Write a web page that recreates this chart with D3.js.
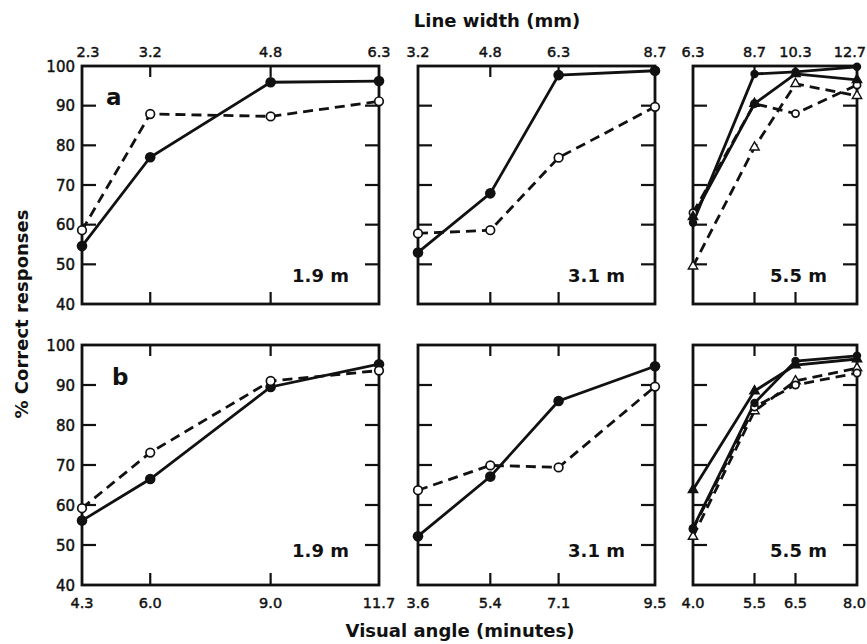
<!DOCTYPE html>
<html>
<head>
<meta charset="utf-8">
<script src="https://cdn.jsdelivr.net/npm/d3@7"></script>
<style>
  body { margin: 0; background: #fff; }
  svg text { font-family: "DejaVu Sans", sans-serif; fill: #111; }
  svg text.tick { stroke: #111; stroke-width: 0.45; }
</style>
</head>
<body>
<svg id="chart" width="867" height="644"></svg>
<script>
// Tick values (visual angle, minutes) and matching line width labels (mm)
const visualAngleTicks = [
    [4.3, 6.0, 9.0, 11.7],
    [3.6, 5.4, 7.1, 9.5],
    [4.0, 5.5, 6.5, 8.0]
];
const lineWidthLabels = [
    ['2.3', '3.2', '4.8', '6.3'],
    ['3.2', '4.8', '6.3', '8.7'],
    ['6.3', '8.7', '10.3', '12.7']
];
const distances = ['1.9 m', '3.1 m', '5.5 m'];
const rowLetters = ['a', 'b'];
const yTicks = [40, 50, 60, 70, 80, 90, 100];

// Row a: % correct responses
const a19Filled = [54.6, 77.0, 95.9, 96.2];
const a19Open = [58.6, 87.9, 87.3, 91.1];
const a31Filled = [53.0, 67.9, 97.7, 98.8];
const a31Open = [57.8, 58.6, 76.9, 89.7];
const a55Filled = [60.5, 98.0, 98.5, 99.8];
const a55FilledTri = [62.0, 90.5, 98.0, 96.5];
const a55Open = [63.0, 90.5, 88.0, 95.2];
const a55OpenTri = [49.5, 79.5, 95.5, 92.5];

// Row b: % correct responses
const b19Filled = [56.1, 66.5, 89.5, 95.2];
const b19Open = [59.2, 73.1, 91.0, 93.6];
const b31Filled = [52.2, 67.1, 86.0, 94.7];
const b31Open = [63.7, 69.9, 69.4, 89.6];
const b55Filled = [54.2, 85.5, 96.0, 97.3];
const b55FilledTri = [63.8, 88.5, 95.0, 96.5];
const b55Open = [54.0, 84.5, 90.0, 93.0];
const b55OpenTri = [52.1, 83.5, 91.0, 94.2];

const rows = [
    [
        [{ v: a19Filled, dash: false, mark: 'dot' }, { v: a19Open, dash: true, mark: 'ring' }],
        [{ v: a31Filled, dash: false, mark: 'dot' }, { v: a31Open, dash: true, mark: 'ring' }],
        [{ v: a55OpenTri, dash: true, mark: 'openTri' }, { v: a55Open, dash: true, mark: 'ring' },
         { v: a55FilledTri, dash: false, mark: 'tri' }, { v: a55Filled, dash: false, mark: 'dot' }]
    ],
    [
        [{ v: b19Filled, dash: false, mark: 'dot' }, { v: b19Open, dash: true, mark: 'ring' }],
        [{ v: b31Filled, dash: false, mark: 'dot' }, { v: b31Open, dash: true, mark: 'ring' }],
        [{ v: b55OpenTri, dash: true, mark: 'openTri' }, { v: b55Open, dash: true, mark: 'ring' },
         { v: b55FilledTri, dash: false, mark: 'tri' }, { v: b55Filled, dash: false, mark: 'dot' }]
    ]
];

const svg = d3.select('#chart');

const panelX = [[82, 379], [418, 655], [693, 857]];
const rowY = [[304, 66], [585, 345]];

function drawPanel(row, col) {
    const ticks = visualAngleTicks[col];
    const x = d3.scaleLinear()
        .domain([ticks[0], ticks[ticks.length - 1]])
        .range(panelX[col]);
    const y = d3.scaleLinear().domain([40, 100]).range(rowY[row]);

    const g = svg.append('g');
    const [x0, x1] = x.range();
    const [yb, yt] = y.range();

    // inward ticks on all sides
    const inner = yTicks.slice(1, -1);
    g.selectAll('.yl').data(inner).enter().append('line')
        .attr('x1', x0).attr('x2', x0 + 14)
        .attr('y1', d => y(d)).attr('y2', d => y(d))
        .attr('stroke', '#111').attr('stroke-width', 2.2);
    g.selectAll('.yr').data(inner).enter().append('line')
        .attr('x1', x1).attr('x2', x1 - 14)
        .attr('y1', d => y(d)).attr('y2', d => y(d))
        .attr('stroke', '#111').attr('stroke-width', 2.2);
    const innerX = ticks.slice(1, -1);
    g.selectAll('.xb').data(innerX).enter().append('line')
        .attr('x1', d => x(d)).attr('x2', d => x(d))
        .attr('y1', yb).attr('y2', yb - 12)
        .attr('stroke', '#111').attr('stroke-width', 2.2);
    g.selectAll('.xt').data(innerX).enter().append('line')
        .attr('x1', d => x(d)).attr('x2', d => x(d))
        .attr('y1', yt).attr('y2', yt + 11)
        .attr('stroke', '#111').attr('stroke-width', 2.2);

    // frame
    g.append('rect')
        .attr('x', x0).attr('y', yt)
        .attr('width', x1 - x0).attr('height', yb - yt)
        .attr('fill', 'none').attr('stroke', '#111').attr('stroke-width', 2.8);

    // tick labels
    const last = ticks.length - 1;
    if (row === 0) {
        g.selectAll('.tl').data(ticks).enter().append('text')
            .attr('class', 'tick')
            .attr('x', (d, i) => {
                if (col === 0 && i === 0) return x(d) + 6;
                if (col === 2 && i === last) return 866;
                return x(d);
            })
            .attr('y', 57)
            .attr('text-anchor', (d, i) => col === 2 && i === last ? 'end' : 'middle')
            .attr('font-size', 14.5)
            .text((d, i) => lineWidthLabels[col][i]);
    } else {
        g.selectAll('.bl').data(ticks).enter().append('text')
            .attr('class', 'tick')
            .attr('x', (d, i) => col === 2 && i === last ? 866 : x(d))
            .attr('y', 608)
            .attr('text-anchor', (d, i) => col === 2 && i === last ? 'end' : 'middle')
            .attr('font-size', 14.5)
            .text(d => d3.format('.1f')(d));
    }
    if (col === 0) {
        g.selectAll('.ylab').data(yTicks).enter().append('text')
            .attr('class', 'tick')
            .attr('x', x0 - 7)
            .attr('y', d => y(d) + 5.5)
            .attr('text-anchor', 'end')
            .attr('font-size', 15)
            .text(d => d);
        g.append('text')
            .attr('x', row === 0 ? 106 : 112)
            .attr('y', row === 0 ? 105 : 385)
            .attr('font-size', 23).attr('font-weight', 'bold')
            .text(rowLetters[row]);
    }

    g.append('text')
        .attr('x', x1 - 30)
        .attr('y', row === 0 ? 282 : 557)
        .attr('text-anchor', 'end')
        .attr('font-size', 18).attr('font-weight', 'bold')
        .text(distances[col]);

    // series
    const line = d3.line().x((d, i) => x(ticks[i])).y(d => y(d));
    rows[row][col].forEach(s => {
        g.append('path')
            .datum(s.v)
            .attr('d', line)
            .attr('fill', 'none')
            .attr('stroke', '#111')
            .attr('stroke-width', 2.8)
            .attr('stroke-dasharray', s.dash ? '10,6' : null);
    });
    const small = col === 2;
    rows[row][col].forEach(s => {
        const pts = g.selectAll(null).data(s.v).enter();
        if (s.mark === 'dot') {
            pts.append('circle')
                .attr('cx', (d, i) => x(ticks[i])).attr('cy', d => y(d))
                .attr('r', small ? 4.2 : 5.3).attr('fill', '#111');
        } else if (s.mark === 'ring') {
            pts.append('circle')
                .attr('cx', (d, i) => x(ticks[i])).attr('cy', d => y(d))
                .attr('r', small ? 3.6 : 4.3).attr('fill', '#fff')
                .attr('stroke', '#111').attr('stroke-width', 1.7);
        } else {
            const sym = d3.symbol().type(d3.symbolTriangle).size(38);
            pts.append('path')
                .attr('d', sym)
                .attr('transform', (d, i) => `translate(${x(ticks[i])},${y(d)})`)
                .attr('fill', s.mark === 'tri' ? '#111' : '#fff')
                .attr('stroke', '#111').attr('stroke-width', 1.4);
        }
    });
}

for (let r = 0; r < 2; r++) {
    for (let c = 0; c < 3; c++) drawPanel(r, c);
}

// axis titles
svg.append('text')
    .attr('x', 497).attr('y', 27)
    .attr('text-anchor', 'middle')
    .attr('font-size', 18).attr('font-weight', 'bold')
    .text('Line width (mm)');
svg.append('text')
    .attr('x', 460).attr('y', 637)
    .attr('text-anchor', 'middle')
    .attr('font-size', 18).attr('font-weight', 'bold')
    .text('Visual angle (minutes)');
svg.append('text')
    .attr('transform', 'translate(28,314) rotate(-90)')
    .attr('text-anchor', 'middle')
    .attr('font-size', 18).attr('font-weight', 'bold')
    .text('% Correct responses');
</script>
</body>
</html>
